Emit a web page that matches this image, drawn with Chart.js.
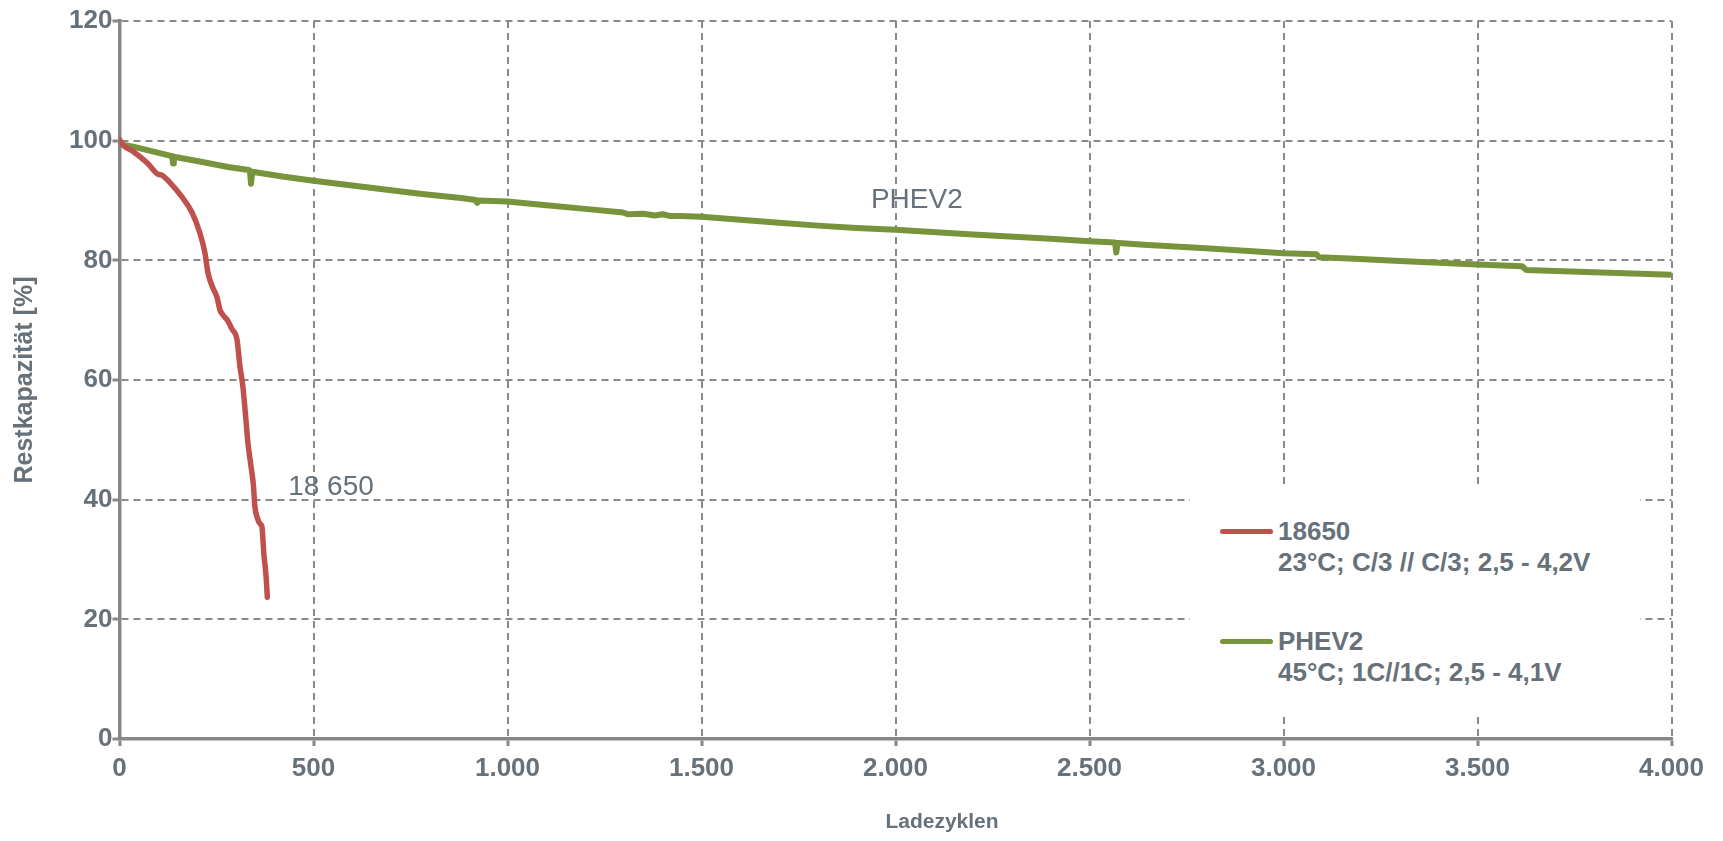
<!DOCTYPE html>
<html>
<head>
<meta charset="utf-8">
<script src="https://cdn.jsdelivr.net/npm/chart.js@4.4.1/dist/chart.umd.min.js"></script>
<style>
  html, body { margin: 0; padding: 0; background: #ffffff; }
  #wrap { position: relative; width: 1723px; height: 841px; }
  #legend {
    position: absolute; left: 1190px; top: 487px; width: 450px; height: 226px;
    background: #ffffff; font-family: "Liberation Sans", Arial, sans-serif;
    font-weight: bold; font-size: 26px; color: #67717a;
  }
  .item { position: absolute; left: 30px; line-height: 31px; }
  .swatch { position: absolute; left: 0; top: 13px; width: 53px; height: 5px; border-radius: 3px; }
  .txt { position: absolute; left: 58px; white-space: nowrap; }
</style>
</head>
<body>
<div id="wrap">
  <canvas id="c" width="1723" height="841"></canvas>
  <div id="legend"></div>
</div>
<script>
// ---- data ----
const cycles18650 = [0, 10, 35, 71, 99, 110, 130, 161, 187, 207, 220, 228, 240, 251, 259, 270, 277, 290, 303, 310, 318, 325, 331, 338, 345, 349, 355, 362, 367, 372, 378, 381];
const cap18650    = [100.2, 99.2, 98.2, 96.3, 94.4, 94.2, 93.0, 90.6, 88.0, 84.6, 81.3, 77.9, 75.5, 73.9, 71.7, 70.6, 70.1, 68.5, 66.7, 62.5, 58.9, 54.0, 49.5, 46.0, 42.5, 38.8, 37.0, 36.0, 35.5, 31.0, 27.0, 23.7];

const cyclesPHEV2 = [0, 10, 35, 80, 130, 136, 138, 140, 200, 280, 333, 336, 339, 342, 420, 500, 600, 700, 780, 880, 918, 922, 926, 1000, 1100, 1200, 1298, 1310, 1350, 1380, 1400, 1420, 1445, 1500, 1600, 1700, 1800, 1900, 2000, 2200, 2400, 2500, 2566, 2569, 2572, 2576, 2640, 2800, 3000, 3085, 3092, 3170, 3300, 3500, 3615, 3625, 3800, 4000];
const capPHEV2    = [99.7, 99.3, 99.0, 98.3, 97.5, 97.4, 96.2, 97.3, 96.6, 95.6, 95.1, 95.0, 92.8, 94.8, 94.0, 93.3, 92.5, 91.7, 91.1, 90.4, 90.1, 89.6, 90.0, 89.85, 89.2, 88.6, 88.0, 87.7, 87.8, 87.5, 87.7, 87.4, 87.4, 87.3, 86.8, 86.3, 85.8, 85.4, 85.1, 84.3, 83.6, 83.2, 83.0, 81.3, 82.9, 82.9, 82.6, 82.0, 81.2, 81.0, 80.5, 80.3, 79.9, 79.3, 79.0, 78.4, 78.0, 77.6];

const seriesNames   = ["18650", "PHEV2"];
const seriesDetails = ["23°C; C/3 // C/3; 2,5 - 4,2V", "45°C; 1C//1C; 2,5 - 4,1V"];
const seriesColors  = ["#c0504d", "#77933c"];

const xTickValues = [0, 500, 1000, 1500, 2000, 2500, 3000, 3500, 4000];
const yTickValues = [0, 20, 40, 60, 80, 100, 120];
const xTitle = "Ladezyklen";
const yTitle = "Restkapazität [%]";

const annotations = [
  { text: "PHEV2",  x: 2055, y: 90.1 },
  { text: "18 650", x: 545,  y: 42.0 }
];

// ---- helpers ----
const TEXT = "#67717a";
const AXIS = "#878787";
const GRID = "#8a8a8a";
const FONT = '"Liberation Sans", Arial, sans-serif';

function toPoints(xs, ys) { return xs.map((x, i) => ({ x: x, y: ys[i] })); }
function deFormat(v) {
  if (v >= 1000) return Math.floor(v / 1000) + "." + String(v % 1000).padStart(3, "0");
  return String(v);
}

const annotationPlugin = {
  id: "annot",
  afterDatasetsDraw(chart) {
    const ctx = chart.ctx, xs = chart.scales.x, ys = chart.scales.y;
    ctx.save();
    ctx.font = "28px " + FONT;
    ctx.fillStyle = TEXT;
    ctx.textAlign = "center";
    ctx.textBaseline = "middle";
    annotations.forEach(a => ctx.fillText(a.text, xs.getPixelForValue(a.x), ys.getPixelForValue(a.y)));
    // x axis title (placed like the reference, slightly right of centre)
    ctx.font = "bold 21px " + FONT;
    ctx.fillText(xTitle, 942, 822);
    ctx.restore();
  }
};

new Chart(document.getElementById("c"), {
  type: "line",
  data: {
    datasets: [
      { label: seriesNames[0], data: toPoints(cycles18650, cap18650), borderColor: seriesColors[0],
        borderWidth: 5.5, pointRadius: 0, cubicInterpolationMode: "monotone", borderCapStyle: "round", borderJoinStyle: "round" },
      { label: seriesNames[1], data: toPoints(cyclesPHEV2, capPHEV2), borderColor: seriesColors[1],
        borderWidth: 6, pointRadius: 0, tension: 0, borderCapStyle: "round", borderJoinStyle: "round" }
    ]
  },
  options: {
    responsive: false,
    animation: false,
    layout: { padding: { left: 0, top: 21, right: 51.5, bottom: 0 } },
    plugins: { legend: { display: false }, tooltip: { enabled: false } },
    scales: {
      x: {
        type: "linear", min: 0, max: 4000,
        afterBuildTicks: s => { s.ticks = xTickValues.map(v => ({ value: v })); },
        afterFit: s => { s.height = 102; s.paddingLeft = 0; s.paddingRight = 0; },
        ticks: { callback: v => deFormat(v), color: TEXT, font: { family: FONT, size: 26, weight: "bold" }, padding: 7, maxRotation: 0 },
        grid: { color: GRID, lineWidth: 2, tickLength: 7, tickColor: AXIS, tickWidth: 3, tickBorderDash: [] },
        border: { color: AXIS, width: 3.5, dash: [7, 5] },
        title: { display: false }
      },
      y: {
        type: "linear", min: 0, max: 120,
        afterBuildTicks: s => { s.ticks = yTickValues.map(v => ({ value: v })); },
        afterFit: s => { s.width = 119.5; s.paddingTop = 0; s.paddingBottom = 0; },
        ticks: { color: TEXT, font: { family: FONT, size: 26, weight: "bold" }, padding: 0 },
        grid: { color: GRID, lineWidth: 2, tickLength: 7, tickColor: AXIS, tickWidth: 3, tickBorderDash: [] },
        border: { color: AXIS, width: 3.5, dash: [7, 5] },
        title: { display: true, text: yTitle, color: TEXT, font: { family: FONT, size: 25, weight: "bold" }, padding: { top: 10, bottom: 0 } }
      }
    }
  },
  plugins: [annotationPlugin]
});

// ---- HTML legend built from the series arrays ----
const legend = document.getElementById("legend");
const itemTops = [28.5, 138.5];
seriesNames.forEach((name, i) => {
  const item = document.createElement("div");
  item.className = "item";
  item.style.top = itemTops[i] + "px";
  const sw = document.createElement("div");
  sw.className = "swatch";
  sw.style.background = seriesColors[i];
  const txt = document.createElement("div");
  txt.className = "txt";
  const l1 = document.createElement("div"); l1.textContent = name;
  const l2 = document.createElement("div"); l2.textContent = seriesDetails[i];
  txt.appendChild(l1); txt.appendChild(l2);
  item.appendChild(sw); item.appendChild(txt);
  legend.appendChild(item);
});
</script>
</body>
</html>
